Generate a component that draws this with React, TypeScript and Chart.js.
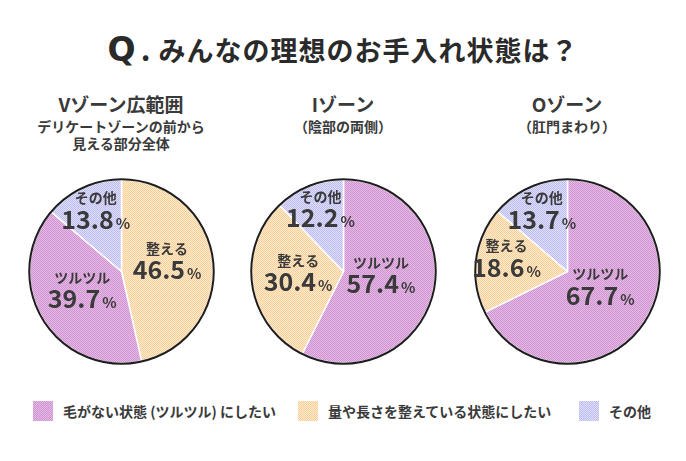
import React, { useEffect, useRef } from "react";
import { Chart, registerables } from "chart.js";

Chart.register(...registerables);

const TITLE_Q = "Q";
const TITLE_TEXT = "みんなの理想のお手入れ状態は？";

const CATEGORIES = ["ツルツル", "整える", "その他"];
const LEGEND_LABELS = [
  "毛がない状態 (ツルツル) にしたい",
  "量や長さを整えている状態にしたい",
  "その他",
];

const ZONE_TITLES = ["Vゾーン広範囲", "Iゾーン", "Oゾーン"];
const ZONE_SUBTITLES = [
  ["デリケートゾーンの前から", "見える部分全体"],
  ["（陰部の両側）"],
  ["（肛門まわり）"],
];

const V_LABELS = ["整える", "ツルツル", "その他"];
const V_VALUES = [46.5, 39.7, 13.8];
const I_LABELS = ["ツルツル", "整える", "その他"];
const I_VALUES = [57.4, 30.4, 12.2];
const O_LABELS = ["ツルツル", "整える", "その他"];
const O_VALUES = [67.7, 18.6, 13.7];

const COLORS: Record<string, { base: string; dot: string }> = {
  ツルツル: { base: "#e6b8e6", dot: "#cf95d1" },
  整える: { base: "#ffebcc", dot: "#f6cf9a" },
  その他: { base: "#dedefa", dot: "#bdbdef" },
};

const FONT = "'Noto Sans CJK JP', 'Noto Sans', sans-serif";
const TEXT = "#3a3a3a";

function makePattern(cat: string): CanvasPattern | string {
  const c = document.createElement("canvas");
  c.width = 2;
  c.height = 2;
  const ctx = c.getContext("2d");
  if (!ctx) return COLORS[cat].base;
  ctx.fillStyle = COLORS[cat].base;
  ctx.fillRect(0, 0, 2, 2);
  ctx.fillStyle = COLORS[cat].dot;
  ctx.fillRect(0, 0, 1, 1);
  ctx.fillRect(1, 1, 1, 1);
  const p = ctx.createPattern(c, "repeat");
  return p || COLORS[cat].base;
}

function swatchStyle(cat: string): React.CSSProperties {
  return {
    width: 20,
    height: 20,
    backgroundColor: COLORS[cat].base,
    backgroundImage: `repeating-conic-gradient(${COLORS[cat].dot} 0% 25%, ${COLORS[cat].base} 0% 50%)`,
    backgroundSize: "2px 2px",
  };
}

const labelPlugin = {
  id: "sliceLabels",
  afterDatasetsDraw(chart: any) {
    const ctx = chart.ctx as CanvasRenderingContext2D;
    const meta = chart.getDatasetMeta(0);
    const values = chart.data.datasets[0].data as number[];
    const labels = chart.data.labels as string[];
    if (meta.data.length) {
      const a0 = meta.data[0] as any;
      const { x, y, outerRadius } = a0.getProps(["x", "y", "outerRadius"], true);
      ctx.save();
      ctx.beginPath();
      ctx.arc(x, y, outerRadius + 0.5, 0, Math.PI * 2);
      ctx.lineWidth = 2;
      ctx.strokeStyle = "#1e1e1e";
      ctx.stroke();
      ctx.restore();
    }
    meta.data.forEach((arc: any, i: number) => {
      const { x, y, startAngle, endAngle, outerRadius } = arc.getProps(
        ["x", "y", "startAngle", "endAngle", "outerRadius"],
        true
      );
      const mid = (startAngle + endAngle) / 2;
      const v = values[i];
      const f = v >= 50 ? 0.42 : v >= 30 ? 0.5 : 0.67;
      const px = x + Math.cos(mid) * outerRadius * f;
      const py = y + Math.sin(mid) * outerRadius * f;
      ctx.save();
      ctx.fillStyle = TEXT;
      ctx.textBaseline = "middle";
      ctx.textAlign = "center";
      ctx.font = `bold 14px ${FONT}`;
      ctx.fillText(labels[i], px, py - 18);
      const num = v.toFixed(1);
      ctx.font = `bold 25px ${FONT}`;
      const wNum = ctx.measureText(num).width;
      ctx.font = `bold 15px ${FONT}`;
      const wPct = ctx.measureText("%").width;
      const total = wNum + 2 + wPct;
      const sx = px - total / 2;
      ctx.textAlign = "left";
      ctx.textBaseline = "alphabetic";
      ctx.font = `bold 25px ${FONT}`;
      ctx.fillText(num, sx, py + 13);
      ctx.font = `bold 15px ${FONT}`;
      ctx.fillText("%", sx + wNum + 2, py + 13);
      ctx.restore();
    });
  },
};

const R = 92.5;
const PAD = 4;
const SIZE = Math.round(2 * (R + PAD));

function Pie({ labels, values, cx, cy }: { labels: string[]; values: number[]; cx: number; cy: number }) {
  const ref = useRef<HTMLCanvasElement>(null);
  useEffect(() => {
    if (!ref.current) return;
    const chart = new Chart(ref.current, {
      type: "pie",
      data: {
        labels,
        datasets: [
          {
            data: values,
            backgroundColor: labels.map((l) => makePattern(l)) as any,
            borderColor: "#ffffff",
            borderWidth: 1.5,
          },
        ],
      },
      options: {
        responsive: false,
        animation: false,
        layout: { padding: PAD },
        plugins: { legend: { display: false }, tooltip: { enabled: false } },
      },
      plugins: [labelPlugin],
    });
    return () => chart.destroy();
  }, []);
  return (
    <canvas
      ref={ref}
      width={SIZE}
      height={SIZE}
      style={{ position: "absolute", left: cx - SIZE / 2, top: cy - SIZE / 2, width: SIZE, height: SIZE }}
    />
  );
}

const PIES = [
  { labels: V_LABELS, values: V_VALUES, cx: 121, cy: 271 },
  { labels: I_LABELS, values: I_VALUES, cx: 343, cy: 271 },
  { labels: O_LABELS, values: O_VALUES, cx: 567, cy: 271 },
];

export default function App() {
  return (
    <div
      style={{
        position: "absolute",
        left: 0,
        top: 0,
        width: 686,
        height: 461,
        background: "#ffffff",
        fontFamily: FONT,
        color: TEXT,
        overflow: "hidden",
      }}
    >
      <div
        style={{
          position: "absolute",
          left: 0,
          width: 686,
          top: 28,
          textAlign: "center",
          fontWeight: 700,
          fontSize: 27,
          lineHeight: "40px",
          whiteSpace: "nowrap",
          color: "#2a2a2a",
        }}
      >
        <span style={{ fontSize: 33, fontFamily: "'DejaVu Sans', sans-serif" }}>{TITLE_Q}</span>
        <span style={{ fontSize: 30, margin: "0 8px 0 5px" }}>.</span>
        <span style={{ letterSpacing: 1 }}>{TITLE_TEXT}</span>
      </div>
      {PIES.map((p, i) => (
        <div
          key={"t" + i}
          style={{
            position: "absolute",
            left: p.cx - 110,
            width: 220,
            top: 92,
            textAlign: "center",
            fontWeight: 700,
            whiteSpace: "nowrap",
          }}
        >
          <div style={{ fontSize: 19, lineHeight: "24px", marginBottom: 2 }}>{ZONE_TITLES[i]}</div>
          {ZONE_SUBTITLES[i].map((s, j) => (
            <div key={j} style={{ fontSize: 14, lineHeight: "17px" }}>
              {s}
            </div>
          ))}
        </div>
      ))}
      {PIES.map((p, i) => (
        <Pie key={"p" + i} labels={p.labels} values={p.values} cx={p.cx} cy={p.cy} />
      ))}
      {CATEGORIES.map((c, i) => (
        <div
          key={"l" + i}
          style={{
            position: "absolute",
            left: [33, 298, 579][i],
            top: 401,
            display: "flex",
            alignItems: "center",
            whiteSpace: "nowrap",
            fontWeight: 700,
            fontSize: 14,
          }}
        >
          <div style={swatchStyle(c)} />
          <span style={{ marginLeft: 10 }}>{LEGEND_LABELS[i]}</span>
        </div>
      ))}
    </div>
  );
}
